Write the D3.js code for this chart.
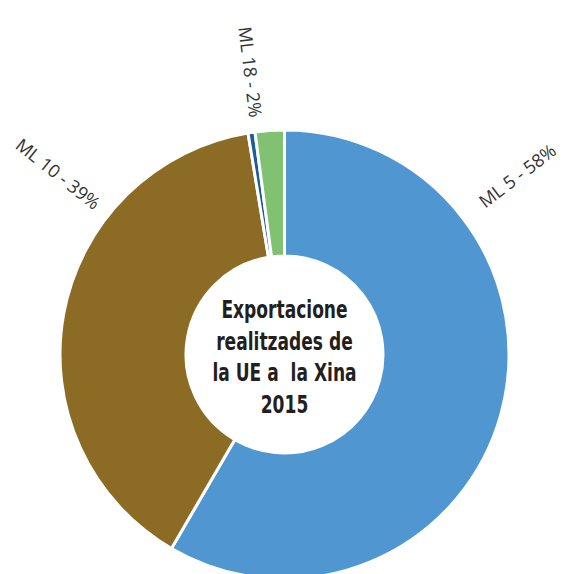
<!DOCTYPE html>
<html>
<head>
<meta charset="utf-8">
<script src="https://cdn.jsdelivr.net/npm/d3@7"></script>
<style>
  body { margin: 0; background: #fff; }
  svg { display: block; }
</style>
</head>
<body>
<script>
// Chart data.
var categories = ["ML 5", "ML 10", "Altres", "ML 18"];
var values = [58.4, 39.0, 0.5, 2.1];
var labels = ["ML 5 - 58%", "ML 10 - 39%", "", "ML 18 - 2%"];
var colors = ["#5097d1", "#8c6c24", "#1d5c98", "#80c271"];
var centerLines = ["Exportacione", "realitzades de", "la UE a  la Xina", "2015"];

// Layout.
var width = 565, height = 574;
var cx = 284.5, cy = 354.5;
var outerR = 224.5, innerR = 98.5;
var labelOut = 248, labelIn = 239;
// where along each slice the label sits (0 = start, 1 = end)
var labelAt = [0.25, 0.70, 0.5, 0.08];

var svg = d3.select("body").append("svg")
        .attr("width", width)
        .attr("height", height);

var pie = d3.pie().sort(null).value(function(d) { return d; });
var arcs = pie(values);

var arc = d3.arc().innerRadius(innerR).outerRadius(outerR);

var g = svg.append("g").attr("transform", "translate(" + cx + "," + cy + ")");

g.selectAll("path.slice")
    .data(arcs)
    .enter().append("path")
    .attr("class", "slice")
    .attr("d", arc)
    .style("fill", function(d, i) { return colors[i]; })
    .style("stroke", "#fff")
    .style("stroke-width", 3);

// Radial labels.
g.selectAll("text.lbl")
    .data(arcs.filter(function(d, i) { return labels[i] !== ""; }))
    .enter().append("text")
    .attr("class", "lbl")
    .each(function(d) {
        var i = d.index;
        var a = d.startAngle + (d.endAngle - d.startAngle) * labelAt[i];
        var deg = a * 180 / Math.PI;
        var el = d3.select(this);
        if (Math.sin(a) >= 0) {
            // right side: text reads outward
            var x = Math.sin(a) * labelOut, y = -Math.cos(a) * labelOut;
            el.attr("text-anchor", "start")
              .attr("transform", "translate(" + x + "," + y + ") rotate(" + (deg - 90) + ")");
        } else {
            // left side: text reads inward
            var x2 = Math.sin(a) * labelIn, y2 = -Math.cos(a) * labelIn;
            el.attr("text-anchor", "end")
              .attr("transform", "translate(" + x2 + "," + y2 + ") rotate(" + (deg + 90) + ")");
        }
    })
    .attr("dy", "0.35em")
    .style("font-family", "'Open Sans', 'Noto Sans', sans-serif")
    .style("font-size", "18px")
    .style("fill", "#333")
    .text(function(d) { return labels[d.index]; });

// Center title.
var title = g.append("text")
    .attr("text-anchor", "middle")
    .attr("transform", "scale(0.76,1)")
    .style("white-space", "pre")
    .style("font-family", "'Liberation Sans Narrow', 'DejaVu Sans Condensed', sans-serif")
    .style("font-weight", "bold")
    .style("font-size", "25px")
    .style("fill", "#231f20");

title.selectAll("tspan")
    .data(centerLines)
    .enter().append("tspan")
    .attr("x", 0)
    .attr("y", function(d, i) { return -37 + i * 32; })
    .text(function(d) { return d; });
</script>
</body>
</html>
